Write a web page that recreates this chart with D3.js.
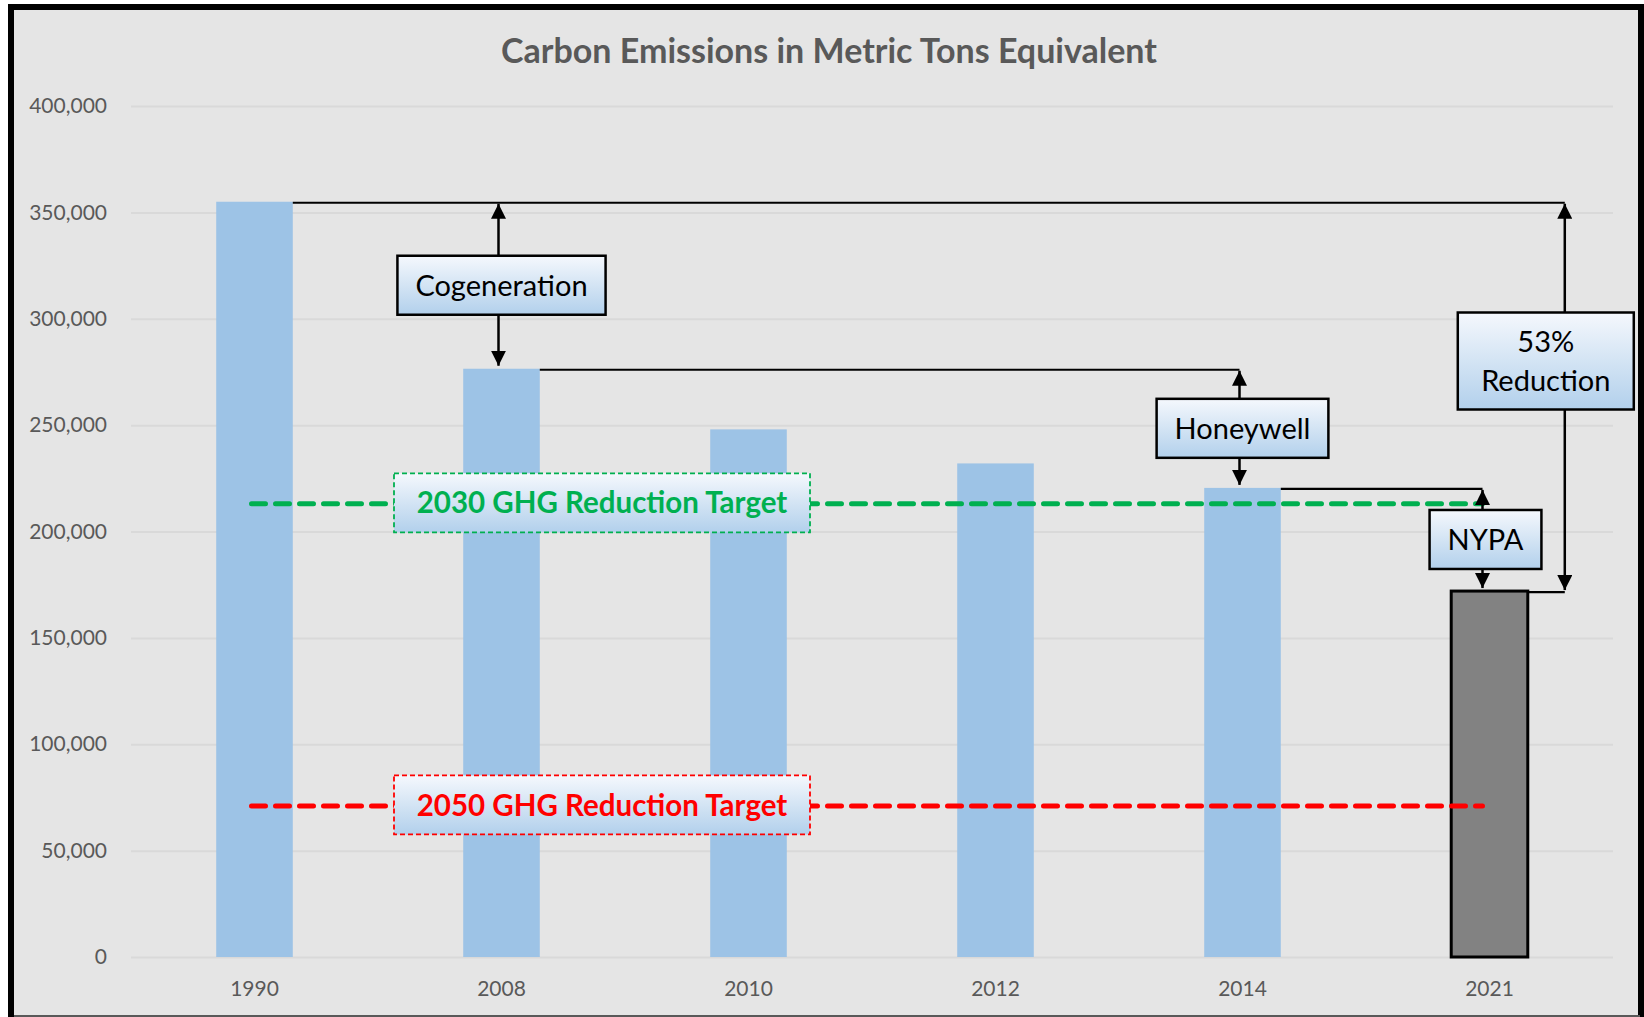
<!DOCTYPE html>
<html lang="en">
  <head>
    <meta charset="UTF-8" />
    <title>Carbon Emissions in Metric Tons Equivalent</title>
    <script src="https://d3js.org/d3.v7.min.js"></script>
    <style>
      body {
        margin: 0;
        background: #ffffff;
      }
      svg {
        display: block;
        font-family: Lato, "Open Sans", sans-serif;
      }
    </style>
  </head>
  <body>
    <div class="chart"></div>
  </body>

  <script>
    // data
    var years = ["1990", "2008", "2010", "2012", "2014", "2021"];
    var emissions = [355000, 276500, 248000, 232000, 220500, 172000];
    var yTicks = [0, 50000, 100000, 150000, 200000, 250000, 300000, 350000, 400000];
    var targetNames = ["2030 GHG Reduction Target", "2050 GHG Reduction Target"];
    var targetValues = [213000, 71000];
    var targetColors = ["#00b050", "#ff0000"];
    // each step: label, year it starts from, year it lands on
    var stepLabels = ["Cogeneration", "Honeywell", "NYPA"];
    var stepFrom = ["1990", "2008", "2014"];
    var stepTo = ["2008", "2014", "2021"];
    var totalLabel = ["53%", "Reduction"];

    var W = 1644,
      H = 1017;
    var plot = { left: 131, right: 1613, top: 106, bottom: 957 };

    var svg = d3
      .select(".chart")
      .append("svg")
      .attr("width", W)
      .attr("height", H);

    var defs = svg.append("defs");
    var grad = defs
      .append("linearGradient")
      .attr("id", "boxFill")
      .attr("x1", 0)
      .attr("y1", 0)
      .attr("x2", 0)
      .attr("y2", 1);
    grad.append("stop").attr("offset", "0%").attr("stop-color", "#f5f8fd");
    grad.append("stop").attr("offset", "55%").attr("stop-color", "#d0e2f3");
    grad.append("stop").attr("offset", "100%").attr("stop-color", "#b2d0ec");

    defs
      .append("marker")
      .attr("id", "head")
      .attr("viewBox", "0 0 10 10")
      .attr("refX", 10)
      .attr("refY", 5)
      .attr("markerUnits", "userSpaceOnUse")
      .attr("markerWidth", 15)
      .attr("markerHeight", 15)
      .attr("orient", "auto")
      .append("path")
      .attr("d", "M0,0 L10,5 L0,10 Z")
      .attr("fill", "#000");

    // chart frame
    svg
      .append("rect")
      .attr("x", 11)
      .attr("y", 7)
      .attr("width", 1630)
      .attr("height", 1020)
      .attr("fill", "#e5e5e5")
      .attr("stroke", "#000")
      .attr("stroke-width", 6);
    svg
      .append("line")
      .attr("x1", 14)
      .attr("x2", 1640)
      .attr("y1", 1016)
      .attr("y2", 1016)
      .attr("stroke", "#595959")
      .attr("stroke-width", 2);

    var x = d3
      .scaleBand()
      .domain(years)
      .range([plot.left, plot.right])
      .paddingInner(0.69)
      .paddingOuter(0.345);
    var y = d3.scaleLinear().domain([0, 400000]).range([plot.bottom, plot.top]);
    var bw = x.bandwidth();
    var mid = function (yr) {
      return x(yr) + bw / 2;
    };
    var valueOf = function (yr) {
      return emissions[years.indexOf(yr)];
    };

    // title
    svg
      .append("text")
      .attr("x", 829)
      .attr("y", 63)
      .attr("text-anchor", "middle")
      .attr("font-size", 34)
      .attr("font-weight", "bold")
      .attr("fill", "#595959")
      .text("Carbon Emissions in Metric Tons Equivalent");

    // y axis
    var yAxis = d3
      .axisLeft(y)
      .tickValues(yTicks)
      .tickFormat(d3.format(","))
      .tickSize(-(plot.right - plot.left))
      .tickPadding(24);
    var gy = svg
      .append("g")
      .attr("transform", "translate(" + plot.left + ",0)")
      .call(yAxis);
    gy.select(".domain").remove();
    gy.selectAll(".tick line").attr("stroke", "#d9d9d9").attr("stroke-width", 2);
    gy.selectAll(".tick text")
      .attr("font-size", 21)
      .attr("fill", "#595959")
      .attr("font-family", "Lato, 'Open Sans', sans-serif");

    // x axis
    var xAxis = d3.axisBottom(x).tickSize(0).tickPadding(24);
    var gx = svg
      .append("g")
      .attr("transform", "translate(0," + plot.bottom + ")")
      .call(xAxis);
    gx.select(".domain").remove();
    gx.selectAll(".tick text")
      .attr("font-size", 21)
      .attr("fill", "#595959")
      .attr("font-family", "Lato, 'Open Sans', sans-serif");

    // bars
    svg
      .append("g")
      .selectAll("rect")
      .data(years)
      .join("rect")
      .attr("x", (d) => x(d))
      .attr("y", (d) => y(valueOf(d)))
      .attr("width", bw)
      .attr("height", (d) => plot.bottom - y(valueOf(d)))
      .attr("fill", (d, i) => (i === years.length - 1 ? "#828282" : "#9dc3e6"))
      .attr("stroke", (d, i) => (i === years.length - 1 ? "#000" : "none"))
      .attr("stroke-width", 3);

    var lastYear = years[years.length - 1];
    var arrowX = function (yr) {
      return mid(yr) - (yr === lastYear ? 7 : 3);
    };
    var totalX = x(lastYear) + bw + 37;

    // target lines
    targetNames.forEach(function (name, i) {
      svg
        .append("line")
        .attr("x1", mid(years[0]) - 3)
        .attr("x2", arrowX(lastYear))
        .attr("y1", y(targetValues[i]))
        .attr("y2", y(targetValues[i]))
        .attr("stroke", targetColors[i])
        .attr("stroke-width", 5)
        .attr("stroke-linecap", "round")
        .attr("stroke-dasharray", "14,10");
    });

    // connector lines from each bar top
    function connector(fromYr, x2) {
      svg
        .append("line")
        .attr("x1", x(fromYr) + bw)
        .attr("x2", x2)
        .attr("y1", y(valueOf(fromYr)) + 1)
        .attr("y2", y(valueOf(fromYr)) + 1)
        .attr("stroke", "#000")
        .attr("stroke-width", 2.2);
    }
    connector(years[0], totalX);
    stepFrom.forEach(function (f, i) {
      if (i > 0) connector(f, arrowX(stepTo[i]));
    });
    connector(lastYear, totalX);

    function arrow(ax, yFrom, yTo) {
      svg
        .append("line")
        .attr("x1", ax)
        .attr("x2", ax)
        .attr("y1", yFrom)
        .attr("y2", yTo)
        .attr("stroke", "#000")
        .attr("stroke-width", 2.5)
        .attr("marker-end", "url(#head)");
    }

    function box(cx, cy, w, h, lines, opts) {
      opts = opts || {};
      var g = svg.append("g");
      g.append("rect")
        .attr("x", cx - w / 2)
        .attr("y", cy - h / 2)
        .attr("width", w)
        .attr("height", h)
        .attr("fill", "url(#boxFill)")
        .attr("stroke", opts.stroke || "#000")
        .attr("stroke-width", opts.strokeWidth || 2.5)
        .attr("stroke-dasharray", opts.dash || null);
      var lh = opts.lineHeight || 39;
      lines.forEach(function (t, i) {
        g.append("text")
          .attr("x", cx)
          .attr("y", cy + (i - (lines.length - 1) / 2) * lh)
          .attr("dy", "0.36em")
          .attr("text-anchor", "middle")
          .attr("font-size", opts.size || 29)
          .attr("font-weight", opts.weight || "normal")
          .attr("fill", opts.color || "#000")
          .text(t);
      });
      return g;
    }

    // step annotations
    stepLabels.forEach(function (label, i) {
      var ax = arrowX(stepTo[i]);
      var yTop = y(valueOf(stepFrom[i]));
      var yBot = y(valueOf(stepTo[i]));
      var cy = (yTop + yBot) / 2;
      var h = 59;
      var tmp = svg
        .append("text")
        .attr("font-size", 29)
        .text(label);
      var tw = tmp.node().getComputedTextLength();
      tmp.remove();
      arrow(ax, cy - h / 2, yTop + 2);
      arrow(ax, cy + h / 2, yBot - 3);
      box(ax + 3, cy, Math.max(tw + 36, 110), h, [label]);
    });

    // total reduction annotation
    var totalCy = 361;
    arrow(totalX, totalCy - 48, y(valueOf(years[0])) + 2);
    arrow(totalX, totalCy + 48, y(valueOf(lastYear)) - 1);
    box(totalX - 19, totalCy, 176, 97, totalLabel);

    // target labels
    targetNames.forEach(function (name, i) {
      box(602, y(targetValues[i]) - 1, 416, 59, [name], {
        stroke: targetColors[i],
        strokeWidth: 1.8,
        dash: "5,3",
        weight: "bold",
        color: targetColors[i],
        size: 29.5,
      });
    });
  </script>
</html>
